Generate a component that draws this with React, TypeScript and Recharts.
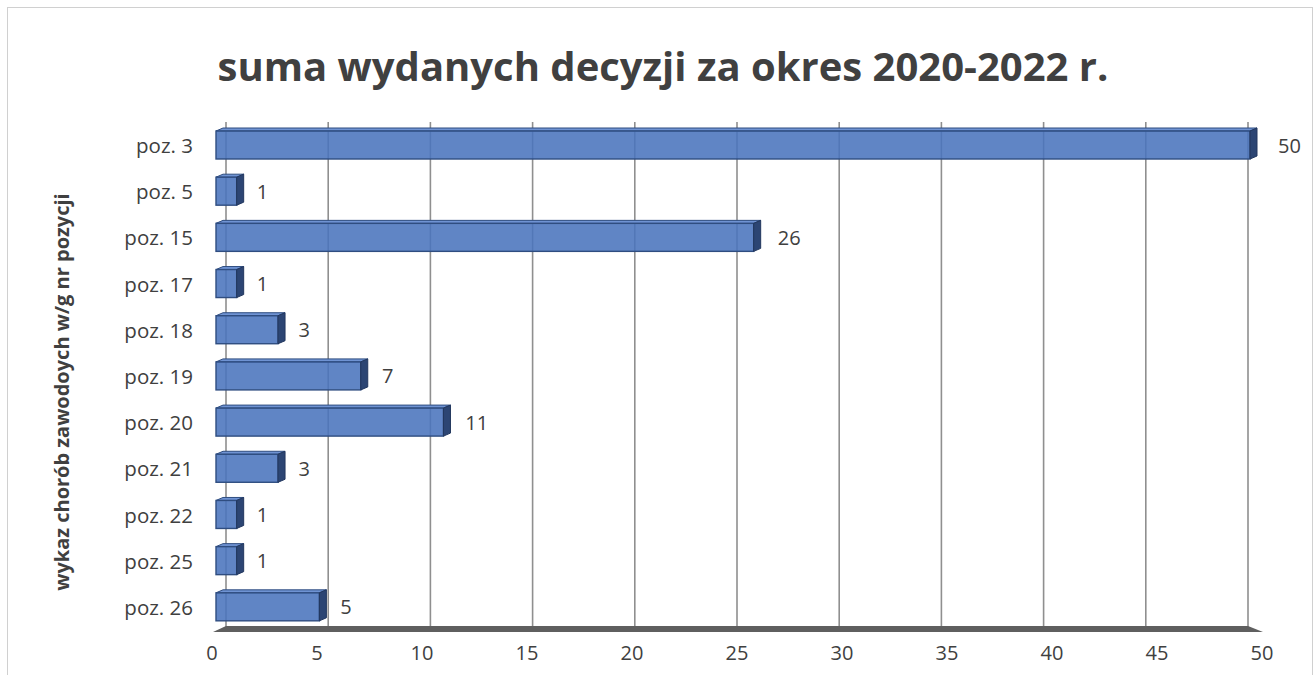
import { Bar, BarChart, CartesianGrid, LabelList, XAxis, YAxis } from 'recharts'

const categories = ['poz. 3', 'poz. 5', 'poz. 15', 'poz. 17', 'poz. 18', 'poz. 19', 'poz. 20', 'poz. 21', 'poz. 22', 'poz. 25', 'poz. 26']
const decisions = [50, 1, 26, 1, 3, 7, 11, 3, 1, 1, 5]
const xTicks = [0, 5, 10, 15, 20, 25, 30, 35, 40, 45, 50]

const chartTitle = 'suma wydanych decyzji za okres 2020-2022 r.'
const yAxisTitle = 'wykaz chorób zawodoych w/g nr pozycji'

const data = categories.map((name, i) => ({ name, value: decisions[i] }))

const FONT = "'Open Sans', 'Noto Sans', sans-serif"
const TEXT = '#404040'
const DEPTH = 7
const RISE = 3

// front face + dark right side + thin top face, like the Excel 3D bar
function Bar3D(props: any) {
  const { x, y, width, height } = props
  if (width == null || height == null) return null
  const r = x + width
  return (
    <g>
      <polygon
        points={`${x},${y} ${x + DEPTH},${y - RISE} ${r + DEPTH},${y - RISE} ${r},${y}`}
        fill="#6f93d3"
        stroke="#2f4d80"
        strokeWidth={1}
      />
      <rect x={x} y={y} width={width} height={height} fill="#4a74bd" fillOpacity={0.88} stroke="#2f4d80" strokeWidth={1.4} />
      <polygon
        points={`${r},${y} ${r + DEPTH},${y - RISE} ${r + DEPTH},${y + height - RISE} ${r},${y + height}`}
        fill="#2c4573"
        stroke="#22375e"
        strokeWidth={1}
      />
    </g>
  )
}

function ValueLabel(props: any) {
  const { x, y, width, height, value } = props
  const off = 20 + Number(value) * 0.16
  return (
    <text x={x + width + off} y={y + height / 2} dominantBaseline="central" fill={TEXT} fontSize={20} fontFamily={FONT}>
      {value}
    </text>
  )
}

function CategoryTick(props: any) {
  const { y, payload } = props
  return (
    <text x={193} y={y} textAnchor="end" dominantBaseline="central" fill={TEXT} fontSize={20.5} fontFamily={FONT}>
      {payload.value}
    </text>
  )
}

function ValueTick(props: any) {
  const { x, payload } = props
  const v = Number(payload.value)
  return (
    <text x={x - 4 + v * 0.32} y={652} textAnchor="middle" dominantBaseline="central" fill={TEXT} fontSize={20} fontFamily={FONT}>
      {payload.value}
    </text>
  )
}

export default function App() {
  return (
    <div style={{ position: 'absolute', left: 0, top: 0, width: 1314, height: 675, overflow: 'hidden', background: '#fff' }}>
      <div style={{ position: 'absolute', left: 7, top: 7, width: 1304, height: 700, border: '1.5px solid #d0d0d0' }} />
      <div style={{ position: 'absolute', left: 0, top: 0 }}>
        <BarChart width={1314} height={675} data={data} layout="vertical" margin={{ top: 122, right: 64, bottom: 0, left: 110 }} barSize={28}>
          <CartesianGrid
            horizontal={false}
            stroke="#8f8f8f"
            strokeWidth={1.6}
            verticalCoordinatesGenerator={({ offset }: any) =>
              xTicks.map((v) => offset.left + 10 + v * ((offset.width - 12) / 50))
            }
          />
          <XAxis type="number" domain={[0, 50]} ticks={xTicks} axisLine={false} tickLine={false} tick={<ValueTick />} height={45} />
          <YAxis type="category" dataKey="name" axisLine={false} tickLine={false} width={106} tick={<CategoryTick />} />
          <Bar dataKey="value" isAnimationActive={false} shape={<Bar3D />}>
            <LabelList dataKey="value" content={<ValueLabel />} />
          </Bar>
        </BarChart>
      </div>
      <svg width={1314} height={675} style={{ position: 'absolute', left: 0, top: 0, pointerEvents: 'none' }}>
        <polygon points="226,626 1248,626 1263,632 213,632" fill="#5f5f5f" />
        <text x={663} y={81} textAnchor="middle" fill={TEXT} fontSize={40} fontWeight={700} fontFamily={FONT}>
          {chartTitle}
        </text>
        <text
          x={61}
          y={392}
          transform="rotate(-90 61 392)"
          textAnchor="middle"
          dominantBaseline="central"
          fill={TEXT}
          fontSize={20}
          fontWeight={700}
          fontFamily={FONT}
        >
          {yAxisTitle}
        </text>
      </svg>
    </div>
  )
}
